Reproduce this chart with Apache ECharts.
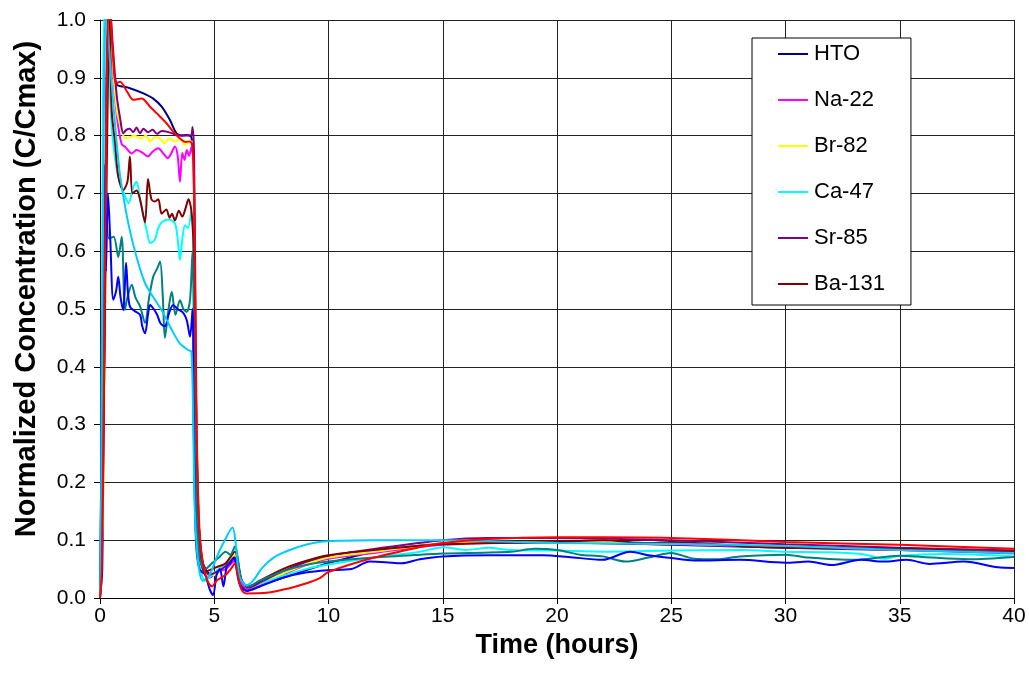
<!DOCTYPE html>
<html>
<head>
<meta charset="utf-8">
<title>Normalized Concentration</title>
<script src="https://cdn.jsdelivr.net/npm/echarts@6/dist/echarts.min.js"></script>
<style>
  html, body { margin: 0; padding: 0; background: #fff; }
  #chart { width: 1029px; height: 692px; }
</style>
</head>
<body>
<div id="chart"></div>
<script>
// [time (hours), C/Cmax]
const hto = [[0,0],[0.1,0.05],[0.2,0.5],[0.3,0.95],[0.4,1.05],[0.55,0.93],[0.73,0.888],[1.0,0.885],[1.31,0.882],[1.9,0.873],[2.33,0.864],[2.7,0.85],[3.06,0.827],[3.35,0.804],[3.6,0.8],[3.8,0.801],[4.0,0.797],[4.1,0.75],[4.2,0.35],[4.3,0.15],[4.45,0.07],[4.7,0.045],[5.0,0.04],[5.3,0.05],[5.6,0.06],[5.9,0.07],[6.1,0.03],[6.4,0.015],[7,0.022],[8,0.035],[9,0.048],[10,0.06],[12,0.08],[15,0.094],[18,0.096],[20,0.096],[25,0.092],[30,0.087],[35,0.083],[40,0.079]];
const na22 = [[0,0],[0.15,0.3],[0.3,0.9],[0.4,1.02],[0.55,0.92],[0.75,0.83],[0.95,0.785],[1.09,0.781],[1.39,0.769],[1.6,0.775],[1.8,0.772],[2.1,0.764],[2.3,0.772],[2.55,0.778],[2.75,0.77],[2.97,0.761],[3.1,0.768],[3.28,0.781],[3.4,0.765],[3.5,0.72],[3.6,0.77],[3.7,0.758],[3.8,0.775],[3.9,0.765],[4.0,0.78],[4.1,0.75],[4.2,0.3],[4.3,0.12],[4.5,0.05],[4.8,0.035],[5.1,0.045],[5.5,0.05],[5.9,0.065],[6.2,0.025],[6.5,0.015],[7,0.022],[8,0.04],[9,0.057],[10,0.068],[12,0.078],[15,0.092],[20,0.097],[25,0.093],[30,0.088],[35,0.083],[40,0.077]];
const br82 = [[0,0],[0.15,0.2],[0.3,0.85],[0.4,1.02],[0.55,0.93],[0.75,0.84],[0.95,0.81],[1.1,0.795],[1.3,0.797],[1.5,0.8],[1.8,0.795],[2.0,0.8],[2.19,0.79],[2.4,0.797],[2.6,0.795],[2.84,0.787],[3.0,0.795],[3.3,0.79],[3.5,0.795],[3.72,0.784],[3.9,0.79],[4.05,0.79],[4.15,0.6],[4.25,0.25],[4.4,0.08],[4.7,0.04],[5.0,0.04],[5.4,0.055],[5.9,0.075],[6.2,0.03],[6.5,0.018],[7,0.025],[8,0.042],[9,0.058],[10,0.07],[12,0.08],[15,0.094],[20,0.097],[25,0.094],[30,0.09],[35,0.086],[40,0.083]];
const ca47 = [[0,0],[0.05,0.2],[0.12,0.8],[0.2,1.02],[0.35,0.95],[0.5,0.82],[0.66,0.76],[0.85,0.72],[1.05,0.7],[1.25,0.683],[1.45,0.71],[1.6,0.72],[1.75,0.69],[1.9,0.66],[2.05,0.635],[2.2,0.614],[2.4,0.62],[2.55,0.64],[2.7,0.65],[3.0,0.655],[3.28,0.648],[3.4,0.62],[3.5,0.585],[3.6,0.62],[3.72,0.645],[3.85,0.64],[4.0,0.67],[4.1,0.55],[4.2,0.2],[4.35,0.06],[4.6,0.03],[4.9,0.04],[5.2,0.05],[5.6,0.06],[5.9,0.07],[6.2,0.03],[6.5,0.02],[7,0.025],[8,0.038],[9,0.05],[10,0.058],[12,0.07],[14,0.08],[15,0.088],[16,0.083],[17,0.087],[18,0.083],[20,0.082],[22,0.08],[25,0.082],[28,0.083],[30,0.08],[32,0.079],[33.5,0.075],[34.3,0.068],[35,0.073],[37,0.076],[40,0.072]];
const sr85 = [[0,0],[0.15,0.25],[0.3,0.9],[0.42,1.03],[0.57,0.95],[0.73,0.87],[0.88,0.83],[1.02,0.804],[1.15,0.81],[1.3,0.812],[1.45,0.806],[1.6,0.814],[1.75,0.804],[1.9,0.812],[2.1,0.806],[2.3,0.81],[2.5,0.803],[2.7,0.808],[3.0,0.806],[3.3,0.802],[3.55,0.8],[3.8,0.8],[3.98,0.8],[4.05,0.815],[4.12,0.76],[4.2,0.4],[4.3,0.15],[4.5,0.06],[4.8,0.04],[5.1,0.045],[5.5,0.055],[5.9,0.07],[6.2,0.03],[6.5,0.018],[7,0.027],[8,0.046],[9,0.062],[10,0.073],[12,0.085],[15,0.1],[17,0.104],[20,0.104],[25,0.1],[30,0.093],[35,0.087],[40,0.082]];
const ba131 = [[0,0],[0.1,0.15],[0.25,0.6],[0.35,0.9],[0.42,1.0],[0.51,0.844],[0.66,0.787],[0.8,0.729],[1.02,0.706],[1.2,0.72],[1.31,0.764],[1.42,0.7],[1.6,0.705],[1.75,0.69],[1.97,0.65],[2.1,0.725],[2.25,0.69],[2.4,0.686],[2.55,0.69],[2.7,0.665],[2.9,0.672],[3.05,0.658],[3.15,0.665],[3.28,0.653],[3.45,0.67],[3.6,0.66],[3.75,0.675],[3.87,0.69],[4.0,0.67],[4.1,0.6],[4.2,0.25],[4.35,0.08],[4.6,0.045],[4.9,0.05],[5.2,0.055],[5.5,0.06],[5.9,0.08],[6.2,0.03],[6.5,0.02],[7,0.03],[8,0.05],[9,0.064],[10,0.074],[12,0.083],[15,0.093],[20,0.097],[22,0.1],[24,0.095],[25,0.097],[28,0.09],[30,0.087],[35,0.085],[38,0.081],[40,0.08]];
// unlabelled series (not in legend)
const series7 = [[0,0],[0.08,0.1],[0.15,0.5],[0.25,0.75],[0.3,0.65],[0.4,0.622],[0.6,0.625],[0.8,0.59],[0.95,0.625],[1.09,0.498],[1.2,0.52],[1.39,0.542],[1.55,0.52],[1.75,0.505],[1.97,0.476],[2.15,0.52],[2.33,0.556],[2.5,0.57],[2.63,0.582],[2.75,0.52],[2.84,0.45],[3.0,0.5],[3.14,0.53],[3.3,0.49],[3.5,0.515],[3.65,0.5],[3.79,0.495],[3.94,0.516],[4.05,0.6],[4.1,0.5],[4.2,0.2],[4.35,0.07],[4.6,0.05],[4.9,0.06],[5.2,0.07],[5.5,0.08],[5.7,0.075],[5.9,0.089],[6.2,0.03],[6.5,0.02],[7,0.03],[8,0.046],[9,0.057],[10,0.063],[12,0.07],[14,0.075],[15,0.077],[18,0.08],[19,0.085],[20,0.083],[21,0.075],[22,0.072],[23,0.063],[24,0.07],[25,0.078],[26,0.068],[27,0.067],[28,0.072],[30,0.075],[31,0.07],[33,0.066],[35,0.073],[36,0.071],[38,0.067],[40,0.071]];
const series8 = [[0,0],[0.1,0.4],[0.2,0.75],[0.26,0.565],[0.35,0.7],[0.45,0.62],[0.58,0.516],[0.7,0.53],[0.8,0.556],[0.9,0.52],[1.02,0.498],[1.14,0.58],[1.22,0.53],[1.31,0.504],[1.5,0.497],[1.75,0.49],[1.85,0.47],[1.97,0.458],[2.1,0.49],[2.19,0.507],[2.35,0.5],[2.5,0.49],[2.65,0.475],[2.84,0.47],[3.0,0.49],[3.2,0.507],[3.4,0.5],[3.65,0.493],[3.8,0.48],[3.94,0.452],[4.05,0.5],[4.1,0.3],[4.2,0.1],[4.35,0.05],[4.6,0.04],[4.8,0.015],[4.95,0.005],[5.1,0.04],[5.25,0.05],[5.4,0.02],[5.55,0.055],[5.7,0.06],[5.85,0.07],[6.1,0.025],[6.4,0.012],[7,0.02],[8,0.035],[9,0.044],[10,0.048],[11,0.05],[11.8,0.063],[12.5,0.062],[13.2,0.06],[14,0.067],[15,0.072],[17,0.074],[19.4,0.074],[20.5,0.071],[22,0.066],[23.2,0.08],[24,0.074],[25,0.069],[26,0.065],[28,0.066],[30,0.061],[31,0.063],[32,0.057],[33.3,0.066],[34.3,0.063],[35.3,0.066],[36.3,0.059],[37.8,0.063],[39.3,0.053],[40,0.052]];
const series9 = [[0,0],[0.08,0.3],[0.18,0.9],[0.28,1.03],[0.4,0.95],[0.55,0.87],[0.7,0.8],[0.85,0.74],[1.0,0.7],[1.25,0.646],[1.6,0.59],[1.97,0.545],[2.4,0.516],[2.7,0.498],[3.14,0.464],[3.5,0.44],[3.86,0.429],[4.0,0.426],[4.08,0.3],[4.15,0.15],[4.3,0.06],[4.5,0.03],[4.8,0.04],[5.1,0.07],[5.4,0.095],[5.8,0.122],[5.95,0.09],[6.1,0.037],[6.4,0.022],[6.7,0.03],[7.1,0.052],[7.6,0.07],[8.3,0.083],[9,0.092],[9.6,0.097],[10.5,0.099],[12,0.1],[15,0.1],[20,0.095],[25,0.094],[30,0.09],[35,0.083],[40,0.078]];
const series10 = [[0,0],[0.08,0.05],[0.2,0.5],[0.3,0.9],[0.4,1.05],[0.55,0.95],[0.7,0.89],[0.875,0.893],[1.2,0.875],[1.46,0.862],[1.82,0.864],[2.19,0.85],[2.5,0.838],[2.92,0.821],[3.2,0.807],[3.5,0.795],[3.75,0.789],[3.94,0.79],[4.05,0.78],[4.12,0.7],[4.2,0.35],[4.35,0.12],[4.5,0.06],[4.7,0.03],[4.9,0.02],[5.1,0.03],[5.3,0.035],[5.5,0.04],[5.76,0.052],[5.9,0.06],[6.05,0.035],[6.2,0.014],[6.4,0.008],[7.3,0.009],[8.3,0.017],[9,0.025],[9.6,0.034],[10,0.045],[12,0.07],[14,0.088],[15,0.095],[17,0.102],[20,0.105],[22,0.105],[25,0.104],[30,0.097],[35,0.092],[40,0.085]];

const seriesNames = ['HTO', 'Na-22', 'Br-82', 'Ca-47', 'Sr-85', 'Ba-131', 'Series 7', 'Series 8', 'Series 9', 'Series 10'];
const seriesData = [hto, na22, br82, ca47, sr85, ba131, series7, series8, series9, series10];
const seriesColors = ['#000080', '#FF00FF', '#FFFF00', '#00FFFF', '#800080', '#800000', '#008080', '#0000FF', '#00CCFF', '#FF0000'];
const legendNames = seriesNames.slice(0, 6);

const font = 'Liberation Sans, Arial, sans-serif';
const chart = echarts.init(document.getElementById('chart'), null, { renderer: 'canvas' });

const option = {
  animation: false,
  backgroundColor: '#fff',
  textStyle: { fontFamily: font },
  grid: { left: 100, top: 20, right: 15, bottom: 94 },
  legend: {
    data: legendNames,
    orient: 'vertical',
    left: 752,
    top: 38,
    padding: [4, 26, 9, 26],
    itemGap: 22,
    itemWidth: 30,
    itemHeight: 2,
    icon: 'rect',
    backgroundColor: '#fff',
    borderColor: '#000',
    borderWidth: 1,
    borderRadius: 0,
    textStyle: { fontFamily: font, fontSize: 22, color: '#000', lineHeight: 24, padding: [0, 0, 0, 1] }
  },
  xAxis: {
    type: 'value',
    min: 0,
    max: 40,
    interval: 5,
    name: 'Time (hours)',
    nameLocation: 'middle',
    nameGap: 33,
    nameTextStyle: { fontFamily: font, fontSize: 27, fontWeight: 'bold', color: '#000' },
    axisLine: { onZero: false, lineStyle: { color: '#000', width: 1 } },
    axisTick: { show: true, length: 6, lineStyle: { color: '#000' } },
    axisLabel: { fontFamily: font, fontSize: 21, color: '#000', margin: 8 },
    splitLine: { show: true, lineStyle: { color: '#222', width: 1 } }
  },
  yAxis: {
    type: 'value',
    min: 0,
    max: 1,
    interval: 0.1,
    name: 'Normalized Concentration (C/Cmax)',
    nameLocation: 'middle',
    nameGap: 59,
    nameTextStyle: { fontFamily: font, fontSize: 29, fontWeight: 'bold', color: '#000', padding: [0, 0, 0, 40] },
    axisLine: { show: true, lineStyle: { color: '#000', width: 1 } },
    axisTick: { show: true, length: 6, lineStyle: { color: '#000' } },
    axisLabel: { fontFamily: font, fontSize: 21, color: '#000', margin: 14, formatter: (v) => v.toFixed(1) },
    splitLine: { show: true, lineStyle: { color: '#222', width: 1 } }
  },
  series: seriesNames.map((name, i) => ({
    name: name,
    type: 'line',
    data: seriesData[i],
    smooth: 0.3,
    showSymbol: false,
    symbol: 'none',
    clip: true,
    color: seriesColors[i],
    lineStyle: { width: 2, color: seriesColors[i] }
  }))
};

chart.setOption(option);
</script>
</body>
</html>
